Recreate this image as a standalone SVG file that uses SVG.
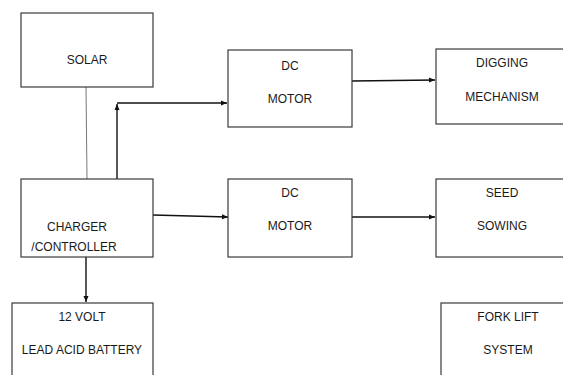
<svg xmlns="http://www.w3.org/2000/svg" width="563" height="375" viewBox="0 0 563 375">
<style>
.box{fill:#fff;stroke:#3a3a3a;stroke-width:1.2}
.t{font-family:"Liberation Sans",Arial,sans-serif;font-size:12px;fill:#1a1a1a;text-anchor:middle}
.c{fill:none;stroke:#111;stroke-width:1.4}
.thin{fill:none;stroke:#777;stroke-width:1}
</style>
<defs>
<marker id="ah" markerWidth="7" markerHeight="6" refX="6" refY="3" orient="auto" markerUnits="userSpaceOnUse">
<path d="M0,0.5 L6,3 L0,5.5 Z" fill="#111"/>
</marker>
</defs>
<rect width="563" height="375" fill="#fff"/>
<g id="connectors">
<line class="thin" x1="86" y1="87" x2="87" y2="179"/>
<polyline class="c" points="117,179 117,104" marker-end="url(#ah)"/>
<line class="c" x1="117" y1="103" x2="227" y2="103" marker-end="url(#ah)"/>
<line class="c" x1="352" y1="81" x2="435" y2="80" marker-end="url(#ah)"/>
<line class="c" x1="153" y1="215" x2="228" y2="217" marker-end="url(#ah)"/>
<line class="c" x1="352" y1="217" x2="435" y2="217" marker-end="url(#ah)"/>
<line class="c" x1="86" y1="257" x2="86" y2="302" marker-end="url(#ah)"/>
</g>
<g id="solar">
<rect class="box" x="21" y="13" width="132" height="74"/>
<text class="t" x="87" y="64">SOLAR</text>
</g>
<g id="charger">
<rect class="box" x="21" y="179" width="132" height="78"/>
<text class="t" x="77" y="231">CHARGER</text>
<text class="t" x="74" y="251">/CONTROLLER</text>
</g>
<g id="dc-motor-1">
<rect class="box" x="228" y="50" width="124" height="77"/>
<text class="t" x="290" y="70">DC</text>
<text class="t" x="290" y="103">MOTOR</text>
</g>
<g id="digging">
<rect class="box" x="436" y="49" width="140" height="75"/>
<text class="t" x="502" y="67">DIGGING</text>
<text class="t" x="502" y="101">MECHANISM</text>
</g>
<g id="dc-motor-2">
<rect class="box" x="228" y="179" width="124" height="78"/>
<text class="t" x="290" y="197">DC</text>
<text class="t" x="290" y="230">MOTOR</text>
</g>
<g id="seed">
<rect class="box" x="436" y="179" width="140" height="78"/>
<text class="t" x="502" y="197">SEED</text>
<text class="t" x="502" y="230">SOWING</text>
</g>
<g id="battery">
<rect class="box" x="12" y="303" width="141" height="80"/>
<text class="t" x="82" y="321">12 VOLT</text>
<text class="t" x="82" y="354">LEAD ACID BATTERY</text>
</g>
<g id="forklift">
<rect class="box" x="441" y="303" width="135" height="80"/>
<text class="t" x="508" y="321">FORK LIFT</text>
<text class="t" x="508" y="354">SYSTEM</text>
</g>
</svg>
